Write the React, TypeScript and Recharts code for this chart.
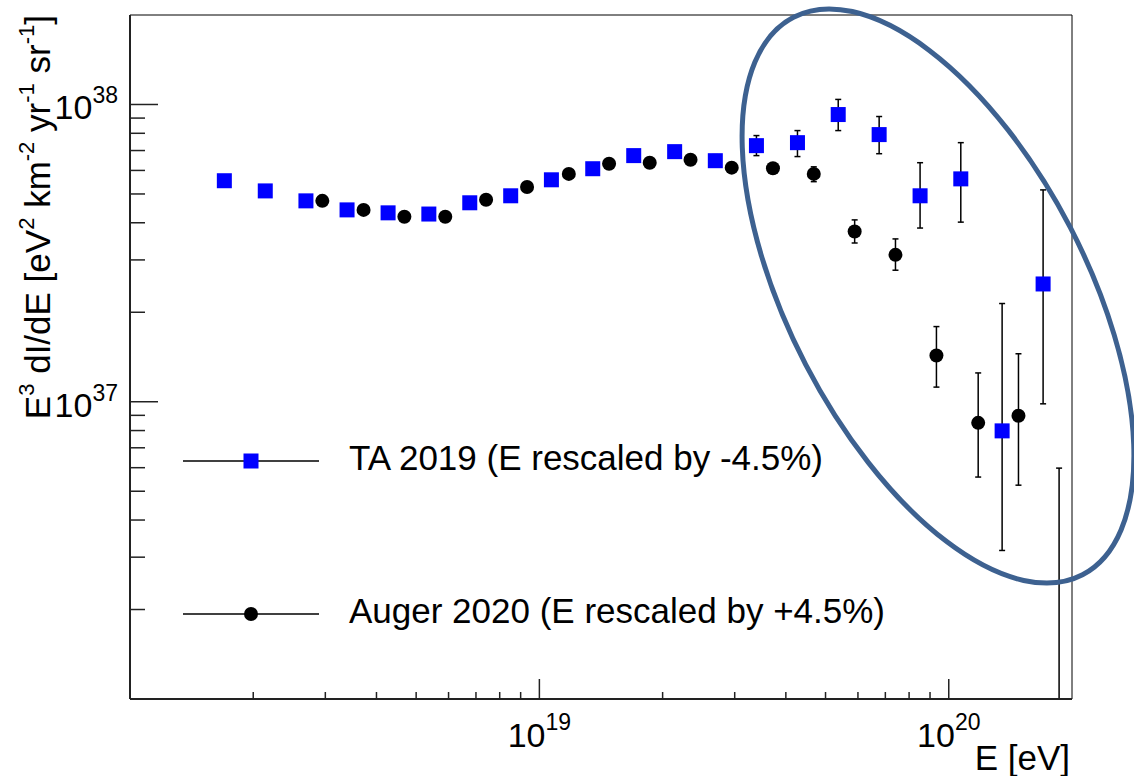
import React from "react";
import { ScatterChart, Scatter, XAxis, YAxis, ErrorBar, ReferenceArea, Legend, Label } from "recharts";

const FONT = "'Liberation Sans', Arial, sans-serif";

// TA 2019, energies already shifted by -4.5%
const taEnergy = [1.70e18, 2.14e18, 2.69e18, 3.39e18, 4.27e18, 5.37e18, 6.76e18, 8.51e18, 1.07e19, 1.35e19, 1.70e19, 2.14e19, 2.69e19, 3.39e19, 4.27e19, 5.37e19, 6.76e19, 8.51e19, 1.07e20, 1.35e20, 1.70e20];
const taFlux = [5.54e37, 5.12e37, 4.74e37, 4.42e37, 4.32e37, 4.28e37, 4.67e37, 4.93e37, 5.58e37, 6.08e37, 6.73e37, 6.94e37, 6.47e37, 7.27e37, 7.44e37, 9.25e37, 7.92e37, 4.93e37, 5.62e37, 7.98e36, 2.49e37];
const taLow = [5.45e37, 5.04e37, 4.67e37, 4.36e37, 4.26e37, 4.21e37, 4.60e37, 4.85e37, 5.48e37, 5.96e37, 6.57e37, 6.75e37, 6.17e37, 6.73e37, 6.68e37, 8.17e37, 6.83e37, 3.84e37, 4.02e37, 3.16e36, 9.84e36];
const taHigh = [5.63e37, 5.20e37, 4.81e37, 4.48e37, 4.38e37, 4.35e37, 4.74e37, 5.01e37, 5.68e37, 6.20e37, 6.89e37, 7.13e37, 6.78e37, 7.86e37, 8.17e37, 1.04e38, 9.11e37, 6.37e37, 7.44e37, 2.14e37, 5.16e37];

// Auger 2020, energies shifted by +4.5% (last bin: marker below the frame, bar runs down to it)
const augerEnergy = [2.95e18, 3.72e18, 4.68e18, 5.89e18, 7.41e18, 9.33e18, 1.18e19, 1.48e19, 1.86e19, 2.34e19, 2.95e19, 3.72e19, 4.68e19, 5.89e19, 7.41e19, 9.33e19, 1.18e20, 1.48e20, 1.86e20];
const augerFlux = [4.74e37, 4.42e37, 4.19e37, 4.19e37, 4.78e37, 5.28e37, 5.84e37, 6.32e37, 6.37e37, 6.52e37, 6.13e37, 6.10e37, 5.84e37, 3.74e37, 3.12e37, 1.43e37, 8.49e36, 8.97e36, 5.0e35];
const augerLow = [4.69e37, 4.38e37, 4.15e37, 4.14e37, 4.72e37, 5.21e37, 5.76e37, 6.22e37, 6.25e37, 6.38e37, 5.97e37, 5.90e37, 5.50e37, 3.42e37, 2.77e37, 1.12e37, 5.58e36, 5.24e36, 1.0e36];
const augerHigh = [4.79e37, 4.46e37, 4.23e37, 4.24e37, 4.84e37, 5.35e37, 5.92e37, 6.42e37, 6.49e37, 6.66e37, 6.29e37, 6.30e37, 6.17e37, 4.09e37, 3.53e37, 1.79e37, 1.25e37, 1.45e37, 5.98e36];

const xTicks = [2e18, 3e18, 4e18, 5e18, 6e18, 7e18, 8e18, 9e18, 1e19, 2e19, 3e19, 4e19, 5e19, 6e19, 7e19, 8e19, 9e19, 1e20];
const yTicks = [2e36, 3e36, 4e36, 5e36, 6e36, 7e36, 8e36, 9e36, 1e37, 2e37, 3e37, 4e37, 5e37, 6e37, 7e37, 8e37, 9e37, 1e38];

const taName = "TA 2019 (E rescaled by -4.5%)";
const augerName = "Auger 2020 (E rescaled by +4.5%)";
const legendOrder = [taName, augerName];

const taData = taEnergy.map((e, i) => ({ x: e, y: taFlux[i], err: [taFlux[i] - taLow[i], taHigh[i] - taFlux[i]] }));
const augerData = augerEnergy.map((e, i) => ({ x: e, y: augerFlux[i], err: [augerFlux[i] - augerLow[i], augerHigh[i] - augerFlux[i]] }));

const isDecade = (v: number) => Math.abs(Math.log10(v) - Math.round(Math.log10(v))) < 1e-9;

function XTick(props: any) {
  const { x, y, payload } = props;
  const v = payload.value;
  const major = isDecade(v);
  return (
    <g>
      <line x1={x} x2={x} y1={y} y2={y - (major ? 20 : 7)} stroke="#222" strokeWidth={1.5} />
      {major && (
        <text x={x} y={y + 48} textAnchor="middle" fontSize={34} fontFamily={FONT} fill="#000">
          10<tspan dy={-17} fontSize={23}>{Math.round(Math.log10(v))}</tspan>
        </text>
      )}
    </g>
  );
}

function YTick(props: any) {
  const { x, y, payload } = props;
  const v = payload.value;
  const major = isDecade(v);
  return (
    <g>
      <line x1={x} x2={x + (major ? 28 : 15)} y1={y} y2={y} stroke="#222" strokeWidth={1.5} />
      {major && (
        <text x={x - 12} y={y + 15} textAnchor="end" fontSize={34} fontFamily={FONT} fill="#000">
          10<tspan dy={-16} fontSize={23}>{Math.round(Math.log10(v))}</tspan>
        </text>
      )}
    </g>
  );
}

const square = (props: any) => {
  const { cx, cy } = props;
  return <rect x={cx - 7.5} y={cy - 7.5} width={15} height={15} fill="#0000ff" />;
};

const dot = (props: any) => {
  const { cx, cy } = props;
  return <circle cx={cx} cy={cy} r={7} fill="#000" />;
};

function LegendBox(props: any) {
  const items = [...(props.payload || [])].sort(
    (a: any, b: any) => legendOrder.indexOf(a.value) - legendOrder.indexOf(b.value)
  );
  const rows = [31, 184];
  return (
    <svg width={740} height={210}>
      {items.map((it: any, i: number) => (
        <g key={i}>
          <line x1={13} x2={149} y1={rows[i]} y2={rows[i]} stroke="#000" strokeWidth={1.5} />
          {it.value === taName ? (
            <rect x={73.5} y={rows[i] - 7.5} width={15} height={15} fill="#0000ff" />
          ) : (
            <circle cx={81} cy={rows[i]} r={7} fill="#000" />
          )}
          <text x={179} y={rows[i] + 9} fontSize={35} fontFamily={FONT} fill="#000">
            {it.value}
          </text>
        </g>
      ))}
    </svg>
  );
}

export default function App() {
  return (
    <div style={{ position: "absolute", left: 0, top: 0, width: 1134, height: 776, background: "#fff" }}>
      <ScatterChart width={1134} height={776} margin={{ top: 15, right: 62, bottom: 0, left: 0 }}>
        <XAxis
          type="number"
          dataKey="x"
          scale="log"
          domain={[1e18, 2e20]}
          ticks={xTicks}
          interval={0}
          allowDataOverflow
          height={77}
          tickSize={0}
          tickMargin={0}
          tickLine={false}
          axisLine={{ stroke: "#222", strokeWidth: 2 }}
          tick={<XTick />}
        >
          <Label
            content={(p: any) => {
              const vb = p.viewBox;
              return (
                <text x={vb.x + vb.width - 2} y={vb.y + 71} textAnchor="end" fontSize={35} fontFamily={FONT} fill="#000">
                  E [eV]
                </text>
              );
            }}
          />
        </XAxis>
        <YAxis
          type="number"
          dataKey="y"
          scale="log"
          domain={[1e36, 2e38]}
          ticks={yTicks}
          interval={0}
          allowDataOverflow
          width={130}
          tickSize={0}
          tickMargin={0}
          tickLine={false}
          axisLine={{ stroke: "#222", strokeWidth: 2 }}
          tick={<YTick />}
        >
          <Label
            content={(p: any) => {
              const vb = p.viewBox;
              const bx = 50;
              const by = vb.y;
              return (
                <text x={bx} y={by} transform={`rotate(-90, ${bx}, ${by})`} textAnchor="end" fontSize={35} fontFamily={FONT} fill="#000">
                  E<tspan dy={-16} fontSize={22}>3</tspan>
                  <tspan dy={16}> dI/dE [eV</tspan>
                  <tspan dy={-16} fontSize={22}>2</tspan>
                  <tspan dy={16}> km</tspan>
                  <tspan dy={-16} fontSize={22}>-2</tspan>
                  <tspan dy={16}> yr</tspan>
                  <tspan dy={-16} fontSize={22}>-1</tspan>
                  <tspan dy={16}> sr</tspan>
                  <tspan dy={-16} fontSize={22}>-1</tspan>
                  <tspan dy={16}>]</tspan>
                </text>
              );
            }}
          />
        </YAxis>
        <ReferenceArea x1={1e18} x2={2e20} y1={1e36} y2={2e38} fill="none" fillOpacity={0} stroke="#000" strokeWidth={1} />
        <Legend
          layout="horizontal"
          verticalAlign="middle"
          align="center"
          content={<LegendBox />}
          wrapperStyle={{ position: "absolute", left: 170, top: 430, width: 740, height: 210 }}
        />
        <Scatter name={taName} data={taData} fill="#0000ff" shape={square} isAnimationActive={false}>
          <ErrorBar dataKey="err" direction="y" width={3} stroke="#000" strokeWidth={1.5} />
        </Scatter>
        <Scatter name={augerName} data={augerData} fill="#000" shape={dot} isAnimationActive={false}>
          <ErrorBar dataKey="err" direction="y" width={3} stroke="#000" strokeWidth={1.5} />
        </Scatter>
      </ScatterChart>
      <svg width={1134} height={776} style={{ position: "absolute", left: 0, top: 0, pointerEvents: "none" }}>
        <ellipse cx={938} cy={296} rx={314} ry={149} transform="rotate(62.6, 938, 296)" fill="none" stroke="#3d6190" strokeWidth={5} />
      </svg>
    </div>
  );
}
